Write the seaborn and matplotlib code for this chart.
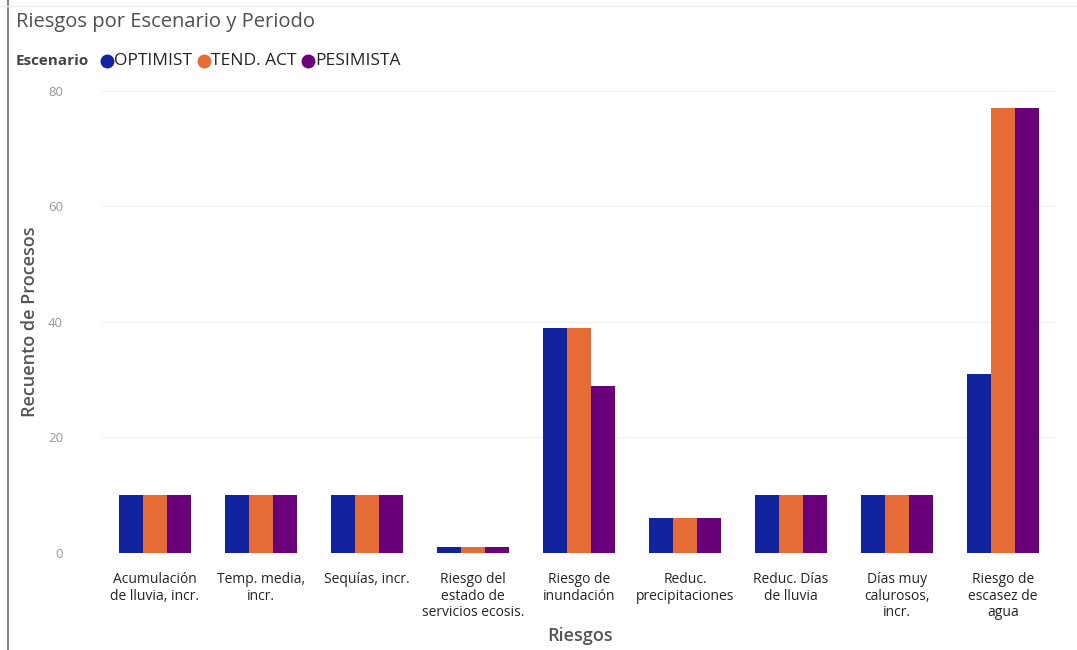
import matplotlib
matplotlib.use("Agg")
import matplotlib.pyplot as plt
from matplotlib.lines import Line2D
import seaborn as sns
import pandas as pd

categories = ["Acumulación\nde lluvia, incr.", "Temp. media,\nincr.", "Sequías, incr.",
              "Riesgo del\nestado de\nservicios ecosis.", "Riesgo de\ninundación",
              "Reduc.\nprecipitaciones", "Reduc. Días\nde lluvia", "Días muy\ncalurosos,\nincr.",
              "Riesgo de\nescasez de\nagua"]
scenarios = ["OPTIMIST", "TEND. ACT", "PESIMISTA"]
optimist = [10, 10, 10, 1, 39, 6, 10, 10, 31]
tend_act = [10, 10, 10, 1, 39, 6, 10, 10, 77]
pesimista = [10, 10, 10, 1, 29, 6, 10, 10, 77]
colors = ["#12239E", "#E66C37", "#6B007B"]
yticks = [0, 20, 40, 60, 80]

rows = []
for s, vals in zip(scenarios, [optimist, tend_act, pesimista]):
    for c, v in zip(categories, vals):
        rows.append({"Riesgos": c, "Escenario": s, "Valor": v})
df = pd.DataFrame(rows)

sns.set_theme(style="white")
plt.rcParams["font.family"] = ["Open Sans", "DejaVu Sans"]

fig = plt.figure(figsize=(10.77, 6.5), dpi=100)
ax = fig.add_axes([102/1077, 1-553/650, (1056-102)/1077, (553-91)/650])
sns.barplot(data=df, x="Riesgos", y="Valor", hue="Escenario", order=categories,
            hue_order=scenarios, palette=colors, width=0.68, saturation=1,
            ax=ax, legend=False, linewidth=0)

ax.set_ylim(0, 80)
ax.set_yticks(yticks)
ax.set_yticklabels([str(t) for t in yticks], color="#999999", fontsize=9.5)
ax.tick_params(axis="y", length=0, pad=28)
ax.tick_params(axis="x", length=0, pad=14)
for lbl in ax.get_xticklabels():
    lbl.set_fontsize(10)
    lbl.set_color("#252423")
    lbl.set_linespacing(1.1)
ax.grid(axis="y", color="#f0f0f0", linewidth=0.8)
ax.set_axisbelow(True)
for sp in ax.spines.values():
    sp.set_visible(False)
ax.set_xlim(-0.5, len(categories) - 0.5)

ax.set_ylabel("Recuento de Procesos", fontsize=13, color="#555555",
              fontweight="semibold", va="center")
ax.set_xlabel("Riesgos", fontsize=13, color="#555555", fontweight="semibold")
ax.yaxis.set_label_coords(-(102-30)/954, 0.5)
ax.xaxis.label.set_va("center")
ax.xaxis.set_label_coords((580-102)/954, -(636-553)/462)

fig.text(16/1077, 1-22/650, "Riesgos por Escenario y Periodo", fontsize=14.5,
         color="#505050", va="center", ha="left")
fig.text(16/1077, 1-61/650, "Escenario", fontsize=11, color="#444444",
         fontweight="bold", va="center", ha="left")

xs = [107, 204, 308]
for x, s, c in zip(xs, scenarios, colors):
    fig.add_artist(Line2D([x/1077], [1-61/650], marker="o", markersize=9,
                          color=c, linestyle="none", transform=fig.transFigure))
    fig.text((x+7)/1077, 1-61/650, s, fontsize=12.5, color="#252423",
             va="center", ha="left")

fig.add_artist(Line2D([7.5/1077, 7.5/1077], [0, 1], color="#888888", linewidth=1.5,
                      transform=fig.transFigure))
fig.add_artist(Line2D([0, 1], [1-6/650, 1-6/650], color="#f0f0f0", linewidth=1,
                      transform=fig.transFigure))

fig.savefig("out.png", dpi=100, facecolor="white")
